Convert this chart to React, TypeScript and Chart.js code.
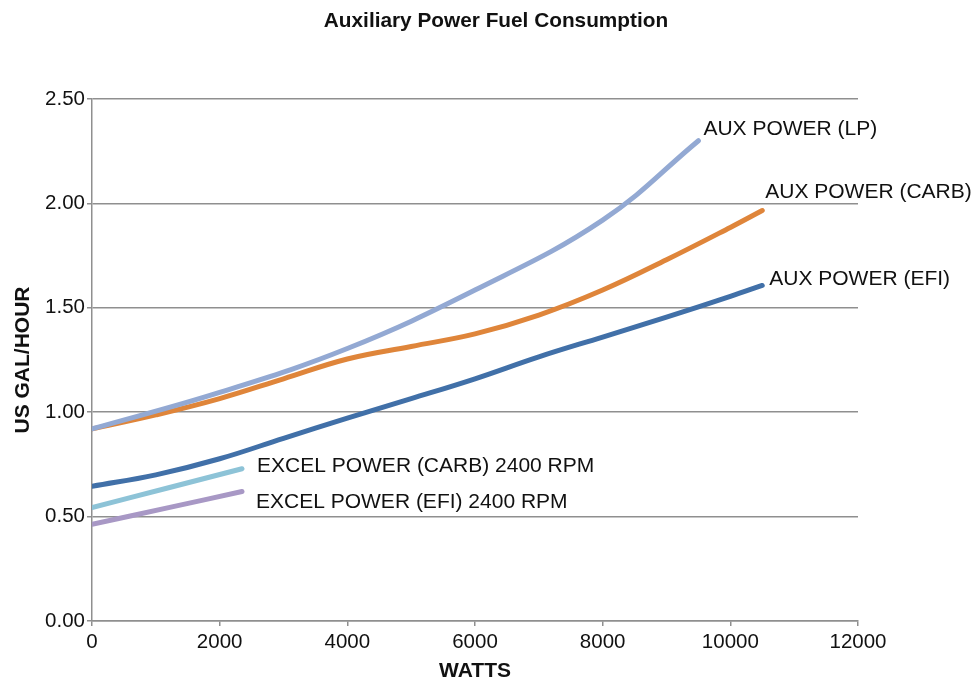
import React, { useEffect, useRef } from "react";
import { Chart, registerables } from "chart.js";

Chart.register(...registerables);

const FONT = '"Liberation Sans", Arial, Helvetica, sans-serif';

// Fuel consumption curves, watts vs US gallons per hour
const lpWatts = [0, 2000, 4000, 6000, 8000, 9500];
const lpGal = [0.92, 1.095, 1.305, 1.585, 1.92, 2.3];

const carbWatts = [0, 1000, 2000, 3000, 4000, 5000, 6000, 7000, 8000, 9000, 10000, 10500];
const carbGal = [0.92, 0.987, 1.065, 1.16, 1.255, 1.315, 1.375, 1.465, 1.585, 1.73, 1.885, 1.966];

const efiWatts = [0, 1000, 2000, 3000, 4000, 5000, 6000, 7000, 8000, 9000, 10000, 10500];
const efiGal = [0.645, 0.7, 0.777, 0.875, 0.972, 1.065, 1.16, 1.265, 1.36, 1.455, 1.555, 1.607];

const excelCarbWatts = [0, 1200, 2350];
const excelCarbGal = [0.543, 0.638, 0.729];

const excelEfiWatts = [0, 1200, 2350];
const excelEfiGal = [0.463, 0.543, 0.62];

const seriesNames = [
  "AUX POWER (LP)",
  "AUX POWER (CARB)",
  "AUX POWER (EFI)",
  "EXCEL POWER (CARB) 2400 RPM",
  "EXCEL POWER (EFI) 2400 RPM",
];

const xTicks = [0, 2000, 4000, 6000, 8000, 10000, 12000];
const yTicks = [0, 0.5, 1, 1.5, 2, 2.5];

const TITLE = "Auxiliary Power Fuel Consumption";
const X_TITLE = "WATTS";
const Y_TITLE = "US GAL/HOUR";

const toPoints = (xs: number[], ys: number[]) => xs.map((x, i) => ({ x, y: ys[i] }));

// Where each end-of-line label sits relative to the last point of its line
const labelOffsets = [
  { dx: 5, dy: -6 },
  { dx: 3, dy: -12 },
  { dx: 7, dy: 0 },
  { dx: 15, dy: 3 },
  { dx: 14, dy: 16 },
];

const endLabels = {
  id: "endLabels",
  afterDatasetsDraw(chart: any) {
    const ctx = chart.ctx;
    ctx.save();
    ctx.font = `21px ${FONT}`;
    ctx.fillStyle = "#111";
    ctx.textAlign = "left";
    ctx.textBaseline = "alphabetic";
    chart.data.datasets.forEach((ds: any, i: number) => {
      const meta = chart.getDatasetMeta(i);
      const last = meta.data[meta.data.length - 1];
      if (!last) return;
      const off = labelOffsets[i];
      ctx.fillText(ds.label, last.x + off.dx, last.y + off.dy);
    });
    ctx.restore();
  },
};

const chartTitle = {
  id: "chartTitle",
  afterDraw(chart: any) {
    const ctx = chart.ctx;
    ctx.save();
    ctx.font = `bold 20.8px ${FONT}`;
    ctx.fillStyle = "#111";
    ctx.textAlign = "center";
    ctx.textBaseline = "alphabetic";
    ctx.fillText(TITLE, 496, 27);
    ctx.restore();
  },
};

export default function App() {
  const canvasRef = useRef<HTMLCanvasElement | null>(null);

  useEffect(() => {
    if (!canvasRef.current) return;
    const colors = ["#93A9D3", "#DF853A", "#4170A8", "#8DC3D7", "#A898C5"];
    const sets = [
      toPoints(lpWatts, lpGal),
      toPoints(carbWatts, carbGal),
      toPoints(efiWatts, efiGal),
      toPoints(excelCarbWatts, excelCarbGal),
      toPoints(excelEfiWatts, excelEfiGal),
    ];
    const chart = new Chart(canvasRef.current, {
      type: "line",
      data: {
        datasets: sets.map((data, i) => ({
          label: seriesNames[i],
          data,
          borderColor: colors[i],
          backgroundColor: colors[i],
          borderWidth: 5,
          borderCapStyle: "round" as const,
          borderJoinStyle: "round" as const,
          pointRadius: 0,
          tension: 0.4,
          fill: false,
        })),
      },
      options: {
        animation: false,
        responsive: false,
        maintainAspectRatio: false,
        layout: { padding: { top: 99, right: 119, bottom: 0, left: 0 } },
        plugins: {
          legend: { display: false },
          tooltip: { enabled: false },
          title: { display: false },
        },
        scales: {
          x: {
            type: "linear",
            min: 0,
            max: 12000,
            afterBuildTicks: (scale: any) => {
              scale.ticks = xTicks.map((value) => ({ value }));
            },
            afterFit: (scale: any) => {
              scale.height = 62;
            },
            ticks: {
              font: { family: FONT, size: 20.5 },
              color: "#111",
              padding: 4,
              maxRotation: 0,
              callback: (v: any) => String(v),
            },
            grid: {
              drawOnChartArea: false,
              drawTicks: true,
              tickLength: 5,
              color: "#8f8f8f",
              lineWidth: 1.5,
            },
            border: { display: true, color: "#8f8f8f", width: 1.5 },
            title: {
              display: true,
              text: X_TITLE,
              font: { family: FONT, size: 21, weight: "bold", lineHeight: 1 },
              color: "#111",
              padding: { top: 0, bottom: 1 },
            },
          },
          y: {
            type: "linear",
            min: 0,
            max: 2.5,
            afterBuildTicks: (scale: any) => {
              scale.ticks = yTicks.map((value) => ({ value }));
            },
            afterFit: (scale: any) => {
              scale.width = 92;
            },
            ticks: {
              font: { family: FONT, size: 20.5 },
              color: "#111",
              padding: 2,
              callback: (v: any) => Number(v).toFixed(2),
            },
            grid: {
              drawOnChartArea: true,
              drawTicks: true,
              tickLength: 5,
              color: "#8f8f8f",
              lineWidth: 1.5,
            },
            border: { display: true, color: "#8f8f8f", width: 1.5 },
            title: {
              display: true,
              text: Y_TITLE,
              font: { family: FONT, size: 21, weight: "bold", lineHeight: 1 },
              color: "#111",
              padding: { top: 13, bottom: 0 },
            },
          },
        },
      },
      plugins: [endLabels, chartTitle],
    });
    return () => chart.destroy();
  }, []);

  return (
    <div style={{ position: "fixed", left: 0, top: 0, width: 977, height: 683, background: "#fff" }}>
      <canvas ref={canvasRef} width={977} height={683} style={{ display: "block", width: 977, height: 683 }} />
    </div>
  );
}
